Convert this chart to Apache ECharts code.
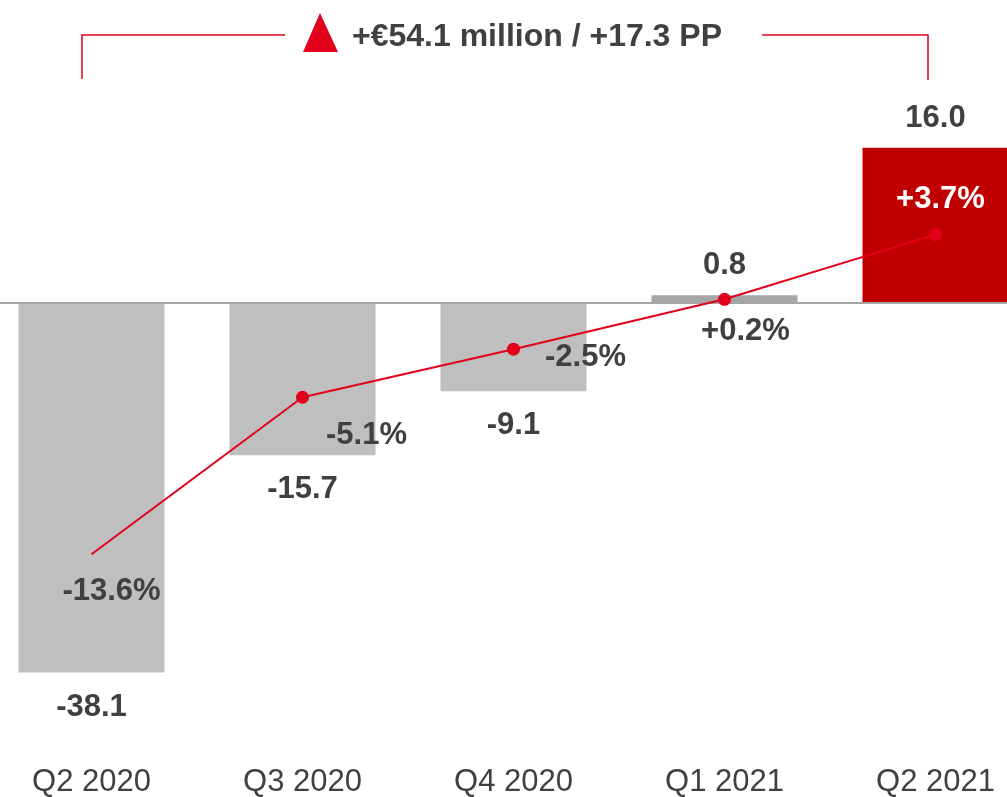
<!DOCTYPE html>
<html>
<head>
<meta charset="utf-8">
<script src="https://cdn.jsdelivr.net/npm/echarts@6/dist/echarts.min.js"></script>
<style>
html, body { margin: 0; padding: 0; background: #fff; }
#main { width: 1007px; height: 797px; }
</style>
</head>
<body>
<div id="main"></div>
<script>
// 数据
var categories = ['Q2 2020', 'Q3 2020', 'Q4 2020', 'Q1 2021', 'Q2 2021'];
var ebitValues = [-38.1, -15.7, -9.1, 0.8, 16.0];
var marginValues = [-13.6, -5.1, -2.5, 0.2, 3.7];

// 样式
var barColors = ['#bfbfbf', '#bfbfbf', '#bfbfbf', '#a6a6a6', '#c00000'];
var marginLabelOffsets = [[20, 37], [64, 38], [72, 8], [21, 32], [5, -35]];
var fontFamily = '"Liberation Sans", Arial, sans-serif';
var red = '#e2001a';
var textColor = '#404040';

function signed(v) {
	return (v > 0 ? '+' : '') + v.toFixed(1);
}

var first = 0, last = ebitValues.length - 1;
var deltaEbit = ebitValues[last] - ebitValues[first];
var deltaMargin = marginValues[last] - marginValues[first];
var headline = '+€' + deltaEbit.toFixed(1) + ' million / +' + deltaMargin.toFixed(1) + ' PP';

var barData = ebitValues.map(function(v, i) {
	return {
		value: v,
		itemStyle: { color: barColors[i] },
		label: {
			position: v < 0 ? 'bottom' : 'top',
			distance: v < 0 ? 19 : 14
		}
	};
});

//第一个点不画圆点，但保留标签
var lineData = marginValues.map(function(v, i) {
	return {
		value: v,
		symbolSize: i == 0 ? 0.1 : 13,
		label: {
			offset: marginLabelOffsets[i],
			color: i == last ? '#fff' : textColor
		}
	};
});

var myChart = echarts.init(document.getElementById('main'));
var option = {
	animation: false,
	grid: {
		left: -14,
		width: 1055,
		top: 109,
		bottom: 106,
		containLabel: false,
		outerBoundsMode: 'none'
	},
	xAxis: {
		type: 'category',
		data: categories,
		axisLine: { show: false },
		axisTick: { show: false },
		axisLabel: {
			margin: 76,
			color: textColor,
			fontSize: 31,
			fontFamily: fontFamily
		}
	},
	yAxis: [{
		type: 'value',
		min: -40,
		max: 20,
		show: false,
		splitLine: { show: false }
	}, {
		type: 'value',
		min: -21,
		max: 10.5,
		show: false,
		splitLine: { show: false }
	}],
	series: [{
		type: 'bar',
		data: barData,
		barWidth: 146,
		label: {
			show: true,
			color: textColor,
			fontSize: 31,
			fontWeight: 'bold',
			fontFamily: fontFamily,
			formatter: function(p) {
				return p.value.toFixed(1);
			}
		},
		markLine: {
			silent: true,
			symbol: 'none',
			label: { show: false },
			lineStyle: { color: '#a6a6a6', width: 2, type: 'solid' },
			data: [{ yAxis: 0 }]
		}
	}, {
		type: 'line',
		yAxisIndex: 1,
		data: lineData,
		symbol: 'circle',
		showAllSymbol: true,
		itemStyle: { color: red },
		lineStyle: { color: red, width: 2 },
		z: 5,
		label: {
			show: true,
			position: 'inside',
			fontSize: 31,
			fontWeight: 'bold',
			fontFamily: fontFamily,
			formatter: function(p) {
				return signed(p.value) + '%';
			}
		}
	}],
	graphic: [{
		type: 'polyline',
		shape: { points: [[82, 79], [82, 35], [285, 35]] },
		style: { stroke: red, lineWidth: 1.5, fill: null }
	}, {
		type: 'polyline',
		shape: { points: [[762, 35], [928, 35], [928, 80]] },
		style: { stroke: red, lineWidth: 1.5, fill: null }
	}, {
		type: 'polygon',
		shape: { points: [[320, 13], [303, 52], [338, 52]] },
		style: { fill: red }
	}, {
		type: 'text',
		left: 352,
		top: 21,
		style: {
			text: headline,
			fill: textColor,
			font: 'bold 32px ' + fontFamily
		}
	}]
};
myChart.setOption(option);
</script>
</body>
</html>
